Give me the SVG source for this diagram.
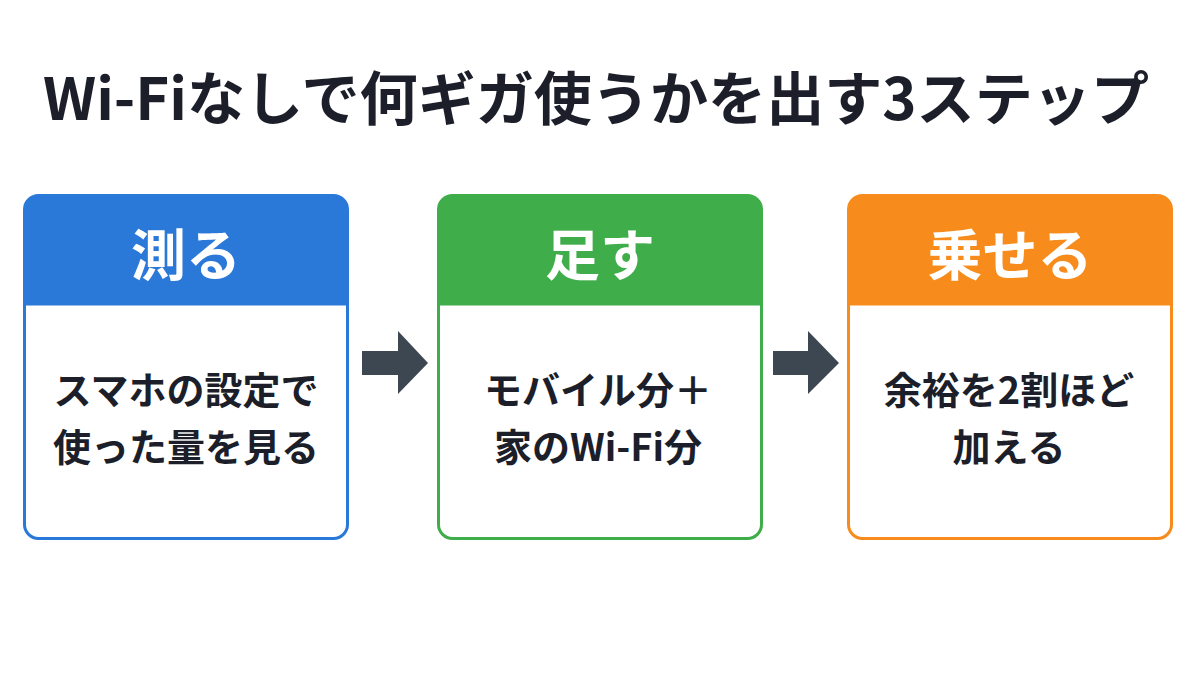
<svg xmlns="http://www.w3.org/2000/svg" width="1200" height="675" viewBox="0 0 1200 675">
<style>
.title{font-family:"Noto Sans CJK JP","Noto Sans",sans-serif;font-weight:700;font-size:58px;fill:#1c1f2a;text-anchor:middle}
.head{font-family:"Noto Sans CJK JP","Noto Sans",sans-serif;font-weight:700;font-size:55px;fill:#ffffff;text-anchor:middle}
.body{font-family:"Noto Sans CJK JP","Noto Sans",sans-serif;font-weight:700;font-size:38px;fill:#1c1f2a;text-anchor:middle}
.arrow{fill:#3d4752}
</style>
<defs>
<clipPath id="c1"><rect x="24.5" y="195.5" width="323" height="343" rx="14"/></clipPath>
<clipPath id="c2"><rect x="438.5" y="195.5" width="323" height="343" rx="14"/></clipPath>
<clipPath id="c3"><rect x="848.5" y="195.5" width="323" height="343" rx="14"/></clipPath>
</defs>
<rect width="1200" height="675" fill="#ffffff"/>
<text class="title" x="596" y="120" textLength="1106" lengthAdjust="spacingAndGlyphs">Wi-Fiなしで何ギガ使うかを出す3ステップ</text>

<g id="step1">
<rect x="24.5" y="195.5" width="323" height="343" rx="14" fill="#ffffff"/>
<rect x="24.5" y="195.5" width="323" height="110" fill="#2a78d8" clip-path="url(#c1)"/>
<rect x="24.5" y="195.5" width="323" height="343" rx="14" fill="none" stroke="#2a78d8" stroke-width="3"/>
<text class="head" x="186" y="275">測る</text>
<text class="body" x="186" y="404">スマホの設定で</text>
<text class="body" x="186" y="461">使った量を見る</text>
</g>

<g id="step2">
<rect x="438.5" y="195.5" width="323" height="343" rx="14" fill="#ffffff"/>
<rect x="438.5" y="195.5" width="323" height="110" fill="#40ad4b" clip-path="url(#c2)"/>
<rect x="438.5" y="195.5" width="323" height="343" rx="14" fill="none" stroke="#40ad4b" stroke-width="3"/>
<text class="head" x="600" y="275">足す</text>
<text class="body" x="598" y="404">モバイル分＋</text>
<text class="body" x="598" y="461">家のWi-Fi分</text>
</g>

<g id="step3">
<rect x="848.5" y="195.5" width="323" height="343" rx="14" fill="#ffffff"/>
<rect x="848.5" y="195.5" width="323" height="110" fill="#f78c1c" clip-path="url(#c3)"/>
<rect x="848.5" y="195.5" width="323" height="343" rx="14" fill="none" stroke="#f78c1c" stroke-width="3"/>
<text class="head" x="1010" y="275">乗せる</text>
<text class="body" x="1009" y="404">余裕を2割ほど</text>
<text class="body" x="1009" y="461">加える</text>
</g>

<g id="connectors">
<polygon class="arrow" points="362,351 398,351 398,331 428,363 398,394 398,375 362,375"/>
<polygon class="arrow" points="773,351 808,351 808,331 839,363 808,394 808,375 773,375"/>
</g>
</svg>
